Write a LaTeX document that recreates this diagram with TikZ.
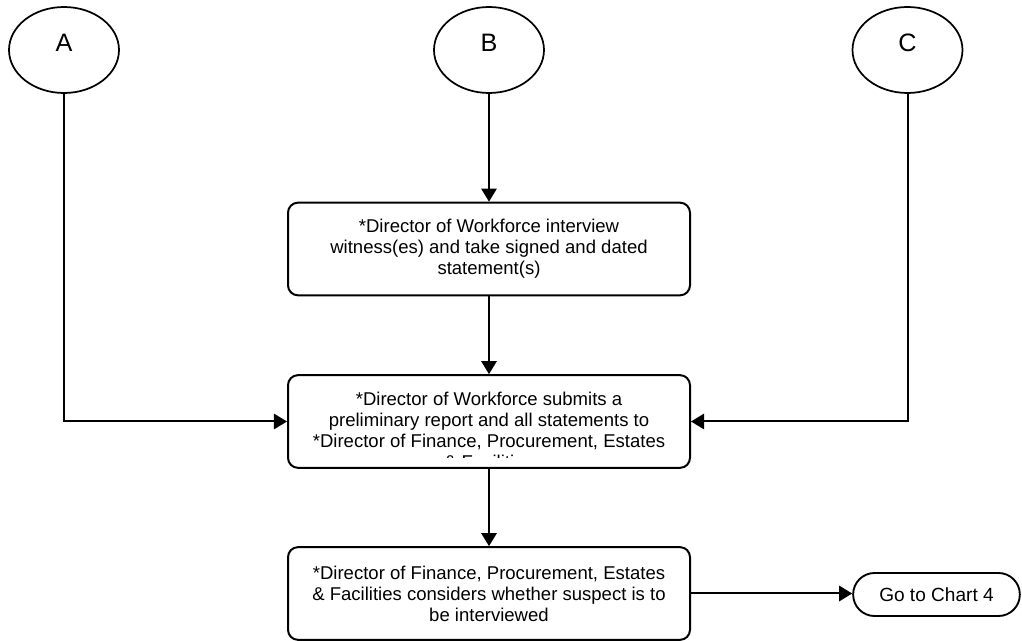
\documentclass[tikz,border=0pt]{standalone}
\usepackage{fontspec}
\setmainfont{Liberation Sans}
\usetikzlibrary{shapes.geometric,arrows.meta}

\begin{document}
\begin{tikzpicture}[x=0.75pt,y=-0.75pt]
    % ===================================
    % 設定
    % ===================================
    \def\lw{1.5pt}   % 線の太さ
    \def\bx{489}     % 中央列のx座標

    \tikzset{
        txt/.style={align=center, inner sep=0pt, font=\fontsize{13.9}{15.8}\selectfont},
        conn/.style={ellipse, draw, line width=1.3pt, minimum width=82.5pt, minimum height=64.5pt, inner sep=0pt,
            text depth=11pt, font=\fontsize{18.9}{22}\selectfont},
        box/.style={rectangle, rounded corners=7.5pt, draw, line width=\lw, minimum width=301.5pt, minimum height=69.5pt, txt},
        term/.style={rectangle, rounded corners=16pt, draw, line width=1.4pt, minimum width=125pt, minimum height=32.25pt,
            txt, font=\fontsize{14.3}{16}\selectfont},
        arr/.style={line width=\lw, -{Triangle[length=9.8pt,width=11.5pt]}}
    }
    % ===================================

    \useasboundingbox (0,0) rectangle (1022,641);

    % 1. 上段の結合子 (A, B, C)
    \node[conn] (A) at (64, 50) {A};
    \node[conn] (B) at (\bx, 50) {B};
    \node[conn] (C) at (907.5, 50) {C};

    % 2. 中央列の処理ボックス
    \node[box] (wit) at (\bx, 249) {*Director of Workforce interview\\
        witness(es) and take signed and dated\\ statement(s)};

    % 報告ボックス (文字がはみ出して下が切れている)
    \node[box] (rep) at (\bx, 421.5) {};
    \begin{scope}
        \clip (290, 377) rectangle (688, 458);
        \node[txt, anchor=north] (reptxt) at (\bx, 391.5) {*Director of Workforce submits a\\
            preliminary report and all statements to\\
            *Director of Finance, Procurement, Estates\\ \& Facilities};
    \end{scope}

    \node[box] (dec) at (\bx, 593.5) {*Director of Finance, Procurement, Estates\\
        \& Facilities considers whether suspect is to\\ be interviewed};

    % 右下の端子
    \node[term] (chart) at (936.5, 594.5) {Go to Chart 4};

    % 3. 矢印で結ぶ
    \draw[arr] (B) -- (wit);
    \draw[arr] (wit) -- (rep);
    \draw[arr] (rep) -- (dec);
    \draw[arr] (A.south) |- (rep.west);
    \draw[arr] (C.south) |- (rep.east);
    \draw[arr] (dec.east) -- (chart.west |- dec.east);

\end{tikzpicture}
\end{document}
